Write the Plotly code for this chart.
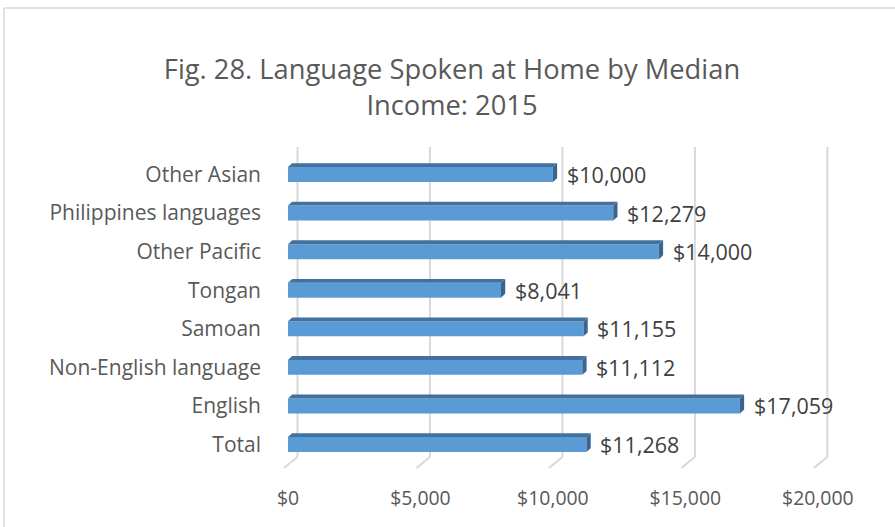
import plotly.graph_objects as go

categories = ["Other Asian", "Philippines languages", "Other Pacific", "Tongan",
              "Samoan", "Non-English language", "English", "Total"]
values = [10000, 12279, 14000, 8041, 11155, 11112, 17059, 11268]
tick_vals = [0, 5000, 10000, 15000, 20000]
tick_text = ["$0", "$5,000", "$10,000", "$15,000", "$20,000"]

FONT = "Open Sans"
FRONT = "#5B9BD5"
TOPC = "#41719C"
SIDEC = "#3A6591"
GRID = "#D9D9D9"
half = 0.194     # half bar thickness (category units)
dx = 160         # 3D depth in x data units
dy = 0.10        # 3D depth in y units
wall = 360       # back-wall offset of gridlines (x units)
floor = 0.034    # floor height (paper units)
x_min, x_max = -150, 20800

ypos = list(range(len(categories)))

fig = go.Figure()
fig.add_trace(go.Bar(
    x=values, y=ypos, orientation="h", width=2 * half,
    marker=dict(color=FRONT, line=dict(width=0)), hoverinfo="skip",
))

# 3D top and side faces
for v, y in zip(values, ypos):
    top = y - half
    fig.add_trace(go.Scatter(
        x=[0, v, v + dx, dx, 0], y=[top, top, top - dy, top - dy, top],
        fill="toself", fillcolor=TOPC, line=dict(width=0), mode="lines",
        hoverinfo="skip", showlegend=False))
    fig.add_trace(go.Scatter(
        x=[v, v + dx, v + dx, v, v], y=[top, top - dy, y + half - dy, y + half, top],
        fill="toself", fillcolor=SIDEC, line=dict(width=0), mode="lines",
        hoverinfo="skip", showlegend=False))

for v, y in zip(values, ypos):
    fig.add_annotation(x=v, y=y, text="${:,}".format(v), showarrow=False,
                       xanchor="left", yanchor="middle", xshift=12,
                       font=dict(family=FONT, size=21.5, color="#404040"))

shapes = []
for tv in tick_vals:
    shapes.append(dict(type="line", xref="x", yref="paper", layer="below",
                       x0=tv + wall, x1=tv + wall, y0=floor, y1=1,
                       line=dict(color=GRID, width=2)))
    shapes.append(dict(type="line", xref="x", yref="paper", layer="below",
                       x0=tv + wall, x1=tv - 150, y0=floor, y1=0,
                       line=dict(color=GRID, width=2)))
shapes += [
    dict(type="line", xref="paper", yref="paper", x0=-0.5045, x1=1.2, y0=1.433, y1=1.433,
         line=dict(color=GRID, width=1.5)),
    dict(type="line", xref="paper", yref="paper", x0=-0.5045, x1=-0.5045, y0=1.433, y1=-0.3,
         line=dict(color=GRID, width=1.5)),
]

fig.update_layout(
    width=895, height=527,
    margin=dict(l=284, r=56, t=147, b=59, autoexpand=False),
    paper_bgcolor="white", plot_bgcolor="white",
    showlegend=False,
    title=dict(text="Fig. 28. Language Spoken at Home by Median<br>Income: 2015",
               x=0.505, xanchor="center", y=0.85, yanchor="middle",
               font=dict(family=FONT, size=27.3, color="#595959")),
    xaxis=dict(range=[x_min, x_max], tickvals=tick_vals, ticktext=tick_text,
               automargin=False, showgrid=False, zeroline=False, showline=False,
               ticks="", ticklabelstandoff=17,
               tickfont=dict(family=FONT, size=19.4, color="#595959")),
    yaxis=dict(range=[7.609, -0.713], tickvals=ypos, ticktext=categories,
               automargin=False,
               showgrid=False, zeroline=False, showline=False, ticks="",
               ticklabelstandoff=22,
               tickfont=dict(family=FONT, size=21, color="#595959")),
    shapes=shapes,
)

fig.write_html("out.html", config={"displayModeBar": False},
               post_script="document.body.style.margin='0';")
